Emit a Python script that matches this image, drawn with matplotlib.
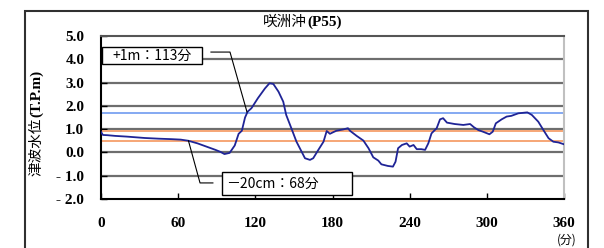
import matplotlib.pyplot as plt
from matplotlib.patches import Rectangle

# 津波水位の時系列 (分, T.P.m)
t = [0, 1.5, 5, 11, 20, 34, 45, 55, 62, 68, 75, 82, 89, 93, 96, 100, 104, 107,
     109.5, 112, 114, 117, 122, 127.5, 131, 134, 138, 141.7, 144, 148, 152, 156,
     158.6, 162.5, 165, 169, 173, 175.5, 178, 180.6, 183, 188.5, 192, 193.6,
     198.8, 204, 208, 211.7, 215.6, 218, 223, 227, 229, 231, 234, 237.7, 240,
     243, 245.5, 249, 252, 254.5, 257, 261, 263.6, 266, 269, 275, 281.7, 287,
     290, 293.4, 297, 302, 304.6, 307, 311.5, 315.4, 319, 324.5, 331.5, 335,
     340, 344, 348, 351.7, 355.6, 360]
h = [0.88, 0.75, 0.74, 0.71, 0.68, 0.62, 0.59, 0.57, 0.55, 0.50, 0.39, 0.25,
     0.11, 0.02, -0.07, -0.02, 0.30, 0.80, 0.93, 1.50, 1.75, 1.90, 2.33, 2.75,
     2.97, 2.94, 2.61, 2.18, 1.61, 1.04, 0.46, 0.03, -0.25, -0.32, -0.25, 0.11,
     0.46, 0.92, 0.80, 0.87, 0.93, 0.99, 1.04, 0.93, 0.71, 0.51, 0.18, -0.21,
     -0.35, -0.51, -0.58, -0.61, -0.40, 0.18, 0.32, 0.39, 0.25, 0.32, 0.14, 0.14,
     0.11, 0.39, 0.82, 1.04, 1.42, 1.47, 1.28, 1.22, 1.18, 1.22, 1.08, 0.96,
     0.89, 0.78, 0.89, 1.25, 1.42, 1.54, 1.57, 1.68, 1.72, 1.61, 1.32, 0.96,
     0.61, 0.46, 0.43, 0.35]

# 基準線
level_up = 1.7      # +1m
level_hi = 0.9
level_lo = 0.5      # -20cm

xticks = [0, 60, 120, 180, 240, 300, 360]
yticks = [-2, -1, 0, 1, 2, 3, 4, 5]
ylabels = ['- 2.0', '- 1.0', '0.0', '1.0', '2.0', '3.0', '4.0', '5.0']

serif = 'Liberation Serif'
jp = 'Noto Sans CJK JP'

fig = plt.figure(figsize=(6.04, 2.48), dpi=100)
ax = fig.add_axes([101 / 604, 1 - 199 / 248, 463 / 604, 163 / 248])

# 枠
fig.patches.append(Rectangle((25 / 604, -0.3), 563 / 604, 1.3 - 11 / 248,
                             transform=fig.transFigure, fill=False,
                             edgecolor='#303030', linewidth=1.5))

for y in yticks[1:-1]:
    ax.axhline(y, color='#6e6e6e', linewidth=1.6, zorder=1)

ax.axhline(level_up, color='#84a9f2', linewidth=1.4, zorder=2)
ax.axhline(level_hi, color='#f6a676', linewidth=1.4, zorder=2)
ax.axhline(level_lo, color='#f6a676', linewidth=1.4, zorder=2)

ax.plot(t, h, color='#1f2496', linewidth=1.3, zorder=4)

ax.set_xlim(0, 360)
ax.set_ylim(-2, 5)
ax.set_xticks(xticks)
ax.set_xticklabels([str(v) for v in xticks], fontfamily=serif,
                   fontweight='bold', fontsize=11)
ax.set_yticks(yticks)
ax.set_yticklabels(ylabels, fontfamily=serif, fontweight='bold', fontsize=11)
ax.tick_params(axis='both', direction='in', length=4, width=1, pad=13)
ax.tick_params(axis='y', pad=12)

ax.spines['left'].set_color('black')
ax.spines['bottom'].set_color('black')
ax.spines['top'].set_color('#555555')
ax.spines['right'].set_color('#c0c0c0')
for s in ax.spines.values():
    s.set_linewidth(1.5)

# 注記 +1m
ax.add_patch(Rectangle((0.8, 3.80), 77.7, 0.73, facecolor='white',
                       edgecolor='black', linewidth=1, zorder=5,
                       clip_on=False))
ax.text(39.6, 4.165, '+1m：113分', fontfamily=jp, fontsize=10,
        ha='center', va='center', zorder=6)
ax.plot([85.5, 100.3, 113.5], [4.31, 4.31, 1.74], color='black',
        linewidth=0.8, zorder=5)

# 注記 -20cm
ax.add_patch(Rectangle((94, -1.83), 101, 0.99, facecolor='white',
                       edgecolor='black', linewidth=1, zorder=5))
ax.text(97, -1.33, '－20cm：68分', fontfamily=jp, fontsize=10,
        ha='left', va='center', zorder=6)
ax.plot([68, 77, 87], [0.5, -1.31, -1.31], color='black',
        linewidth=0.8, zorder=5)

# タイトル
fig.text(307 / 604, 1 - 22 / 248, '咲洲沖', fontfamily=jp, fontsize=10.5,
         ha='right', va='center')
fig.text(307 / 604, 1 - 22 / 248, '(P55)', fontfamily=serif,
         fontweight='bold', fontsize=11, ha='left', va='center')

# 縦軸ラベル
fig.text(37 / 604, 1 - 117 / 248, '津波水位', fontfamily=jp, fontsize=10.5,
         rotation=90, ha='center', va='top')
fig.text(37 / 604, 1 - 117 / 248, '(T.P.m)', fontfamily=serif,
         fontweight='bold', fontsize=11, rotation=90, ha='center',
         va='bottom')

# 横軸単位
fig.text(567 / 604, 1 - 247 / 248, '(分)', fontfamily=jp, fontsize=8.5,
         ha='center', va='bottom')

fig.savefig('out.png', dpi=100)
